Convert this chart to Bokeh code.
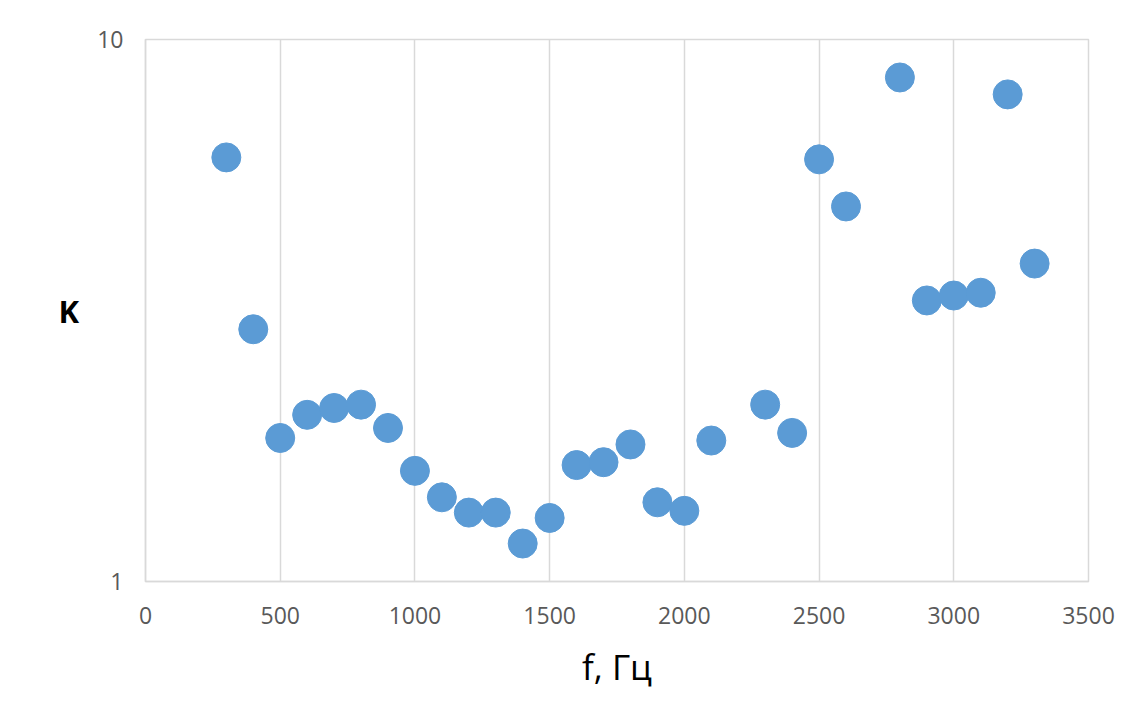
from bokeh.plotting import figure
from bokeh.models import FixedTicker, Range1d
from bokeh.embed import file_html
from bokeh.resources import INLINE

freq = [300, 400, 500, 600, 700, 800, 900, 1000, 1100, 1200, 1300, 1400, 1500,
        1600, 1700, 1800, 1900, 2000, 2100, 2300, 2400, 2500, 2600, 2800, 2900,
        3000, 3100, 3200, 3300]
k_vals = [6.06, 2.92, 1.84, 2.03, 2.09, 2.12, 1.92, 1.60, 1.43, 1.34, 1.34, 1.175, 1.31,
          1.64, 1.66, 1.79, 1.40, 1.35, 1.82, 2.12, 1.88, 6.01, 4.92, 8.51, 3.30,
          3.37, 3.41, 7.92, 3.86]
x_ticks = [0, 500, 1000, 1500, 2000, 2500, 3000, 3500]
y_ticks = [1, 10]
x_title = "f, Гц"
y_title = "K"

FONT = "Open Sans"
GRID = "#d9d9d9"

p = figure(width=1137, height=713, y_axis_type="log", output_backend="svg",
           toolbar_location=None, x_range=Range1d(0, 3500), y_range=Range1d(1, 10),
           min_border_left=145, min_border_right=49, min_border_top=39, min_border_bottom=132)

p.scatter(freq, k_vals, size=29, color="#5B9BD5", line_color="#5B9BD5")

p.xaxis.ticker = FixedTicker(ticks=x_ticks)
p.yaxis.ticker = FixedTicker(ticks=y_ticks, minor_ticks=[])
p.yaxis.major_label_overrides = {1: "1", 10: "10"}
p.xgrid.ticker = FixedTicker(ticks=x_ticks)
p.xgrid.grid_line_color = GRID
p.xgrid.grid_line_width = 1.5
p.ygrid.grid_line_color = None

for ax in (p.xaxis[0], p.yaxis[0]):
    ax.axis_line_color = GRID
    ax.axis_line_width = 1.5
    ax.major_tick_line_color = None
    ax.minor_tick_line_color = None
    ax.major_label_text_font = FONT
    ax.major_label_text_font_size = "23px"
    ax.major_label_text_color = "#595959"

p.xaxis.major_label_standoff = 19
p.yaxis.major_label_standoff = 16
p.xaxis.axis_label = x_title
p.xaxis.axis_label_text_font = FONT
p.xaxis.axis_label_text_font_size = "35px"
p.xaxis.axis_label_text_font_style = "normal"
p.xaxis.axis_label_text_color = "#000000"
p.xaxis.axis_label_standoff = 16

yax = p.yaxis[0]
yax.axis_label = y_title
yax.axis_label_text_font = FONT
yax.axis_label_text_font_size = "31px"
yax.axis_label_text_font_style = "bold"
yax.axis_label_text_color = "#000000"
yax.axis_label_standoff = 15
if "axis_label_orientation" in yax.properties():
    yax.axis_label_orientation = "horizontal"

p.outline_line_color = GRID
p.outline_line_width = 1.5

open("out.html", "w").write(file_html(p, INLINE))
